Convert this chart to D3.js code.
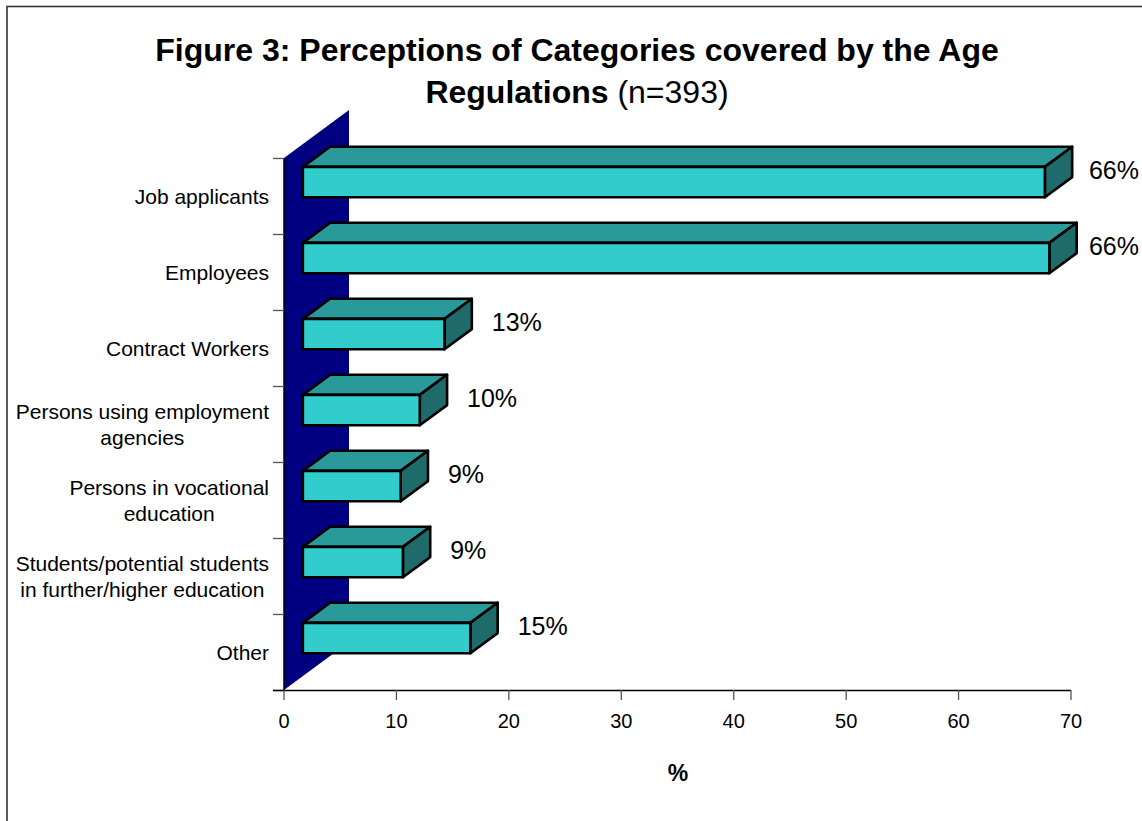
<!DOCTYPE html>
<html>
<head>
<meta charset="utf-8">
<script src="https://cdn.jsdelivr.net/npm/d3@7"></script>
<style>
  html, body { margin: 0; padding: 0; background: #fff; }
  svg { display: block; font-family: "Liberation Sans", Arial, sans-serif; }
</style>
</head>
<body>
<svg id="chart" width="1142" height="821"></svg>
<script>
// Categories (lines of each axis label separated by "|") and percentages
const categories = [
  "Job applicants",
  "Employees",
  "Contract Workers",
  "Persons using employment|agencies",
  "Persons in vocational|education",
  "Students/potential students|in further/higher education",
  "Other"
];
const values = [66.0, 66.4, 12.6, 10.4, 8.7, 8.9, 14.9];
const xTicks = [0, 10, 20, 30, 40, 50, 60, 70];

(function draw() {
  const svg = d3.select("#chart");
  const W = 1142, H = 821;

  // Frame round the chart area
  svg.append("rect")
    .attr("x", 7).attr("y", 6.5)
    .attr("width", W + 10).attr("height", H + 10)
    .attr("fill", "#fff").attr("stroke", "#333").attr("stroke-width", 1.6);

  // Scales
  const x = d3.scaleLinear().domain([0, 70]).range([284, 1071]);
  const y = d3.scaleBand().domain(categories).range([158, 690]).paddingInner(0).paddingOuter(0);

  // Depth of the 3D plot (wall) and of the bars
  const depth = [65, -48];
  const barFront = 0.29, barBack = 0.71;
  const bw = y.bandwidth();
  const barH = bw * 0.4;

  // Back wall
  const yTop = y.range()[0], yBottom = y.range()[1], x0 = x(0);
  svg.append("polygon")
    .attr("points", [
      [x0, yTop], [x0 + depth[0], yTop + depth[1]],
      [x0 + depth[0], yBottom + depth[1]], [x0, yBottom]
    ].map(p => p.join(",")).join(" "))
    .attr("fill", "#000080");

  // Category axis
  svg.append("line")
    .attr("x1", x0).attr("x2", x0).attr("y1", yTop).attr("y2", yBottom)
    .attr("stroke", "#000").attr("stroke-width", 1.5);
  const bounds = categories.map(c => y(c)).concat([yBottom]);
  svg.selectAll("line.ytick").data(bounds).join("line")
    .attr("class", "ytick")
    .attr("x1", x0 - 11).attr("x2", x0)
    .attr("y1", d => d + 0.5).attr("y2", d => d + 0.5)
    .attr("stroke", "#555").attr("stroke-width", 1.3);

  // Category labels: multi-line labels are centred within a right-aligned block
  const labelRight = 269;
  categories.forEach(c => {
    const lines = c.split("|");
    const cy = y(c) + bw / 2;
    const g = svg.append("g");
    const texts = lines.map((ln, i) => g.append("text")
      .attr("y", cy + (i - (lines.length - 1) / 2) * 26)
      .attr("dy", "0.36em")
      .attr("text-anchor", "middle")
      .attr("font-size", 21)
      .attr("fill", "#000")
      .text(ln));
    const maxW = d3.max(texts, t => t.node().getComputedTextLength());
    texts.forEach(t => t.attr("x", labelRight - maxW / 2));
  });

  // Value axis
  svg.append("line")
    .attr("x1", x0 - 11).attr("x2", x(70)).attr("y1", yBottom + 0.5).attr("y2", yBottom + 0.5)
    .attr("stroke", "#000").attr("stroke-width", 1.5);
  svg.selectAll("line.xtick").data(xTicks).join("line")
    .attr("class", "xtick")
    .attr("x1", d => x(d)).attr("x2", d => x(d))
    .attr("y1", yBottom).attr("y2", yBottom + 10)
    .attr("stroke", "#555").attr("stroke-width", 1.3);
  svg.selectAll("text.xlab").data(xTicks).join("text")
    .attr("class", "xlab")
    .attr("x", d => x(d)).attr("y", 728)
    .attr("text-anchor", "middle")
    .attr("font-size", 20)
    .text(d => d);

  svg.append("text")
    .attr("x", 678).attr("y", 781)
    .attr("text-anchor", "middle")
    .attr("font-size", 23).attr("font-weight", "bold")
    .text("%");

  // 3D bars
  const fx = depth[0] * barFront, fy = depth[1] * barFront;
  const bx = depth[0] * (barBack - barFront), by = depth[1] * (barBack - barFront);
  const pts = a => a.map(p => p.join(",")).join(" ");

  const bars = svg.selectAll("g.bar").data(categories.map((c, i) => ({ c, v: values[i] })))
    .join("g").attr("class", "bar");

  bars.each(function(d) {
    const g = d3.select(this);
    const xl = x(0) + fx, xr = x(d.v) + fx;
    const yt = y(d.c) + bw / 2 - barH / 2 + fy, yb = yt + barH;
    const style = sel => sel.attr("stroke", "#000").attr("stroke-width", 2.6).attr("stroke-linejoin", "round");
    g.append("polygon").attr("points", pts([[xl, yt], [xr, yt], [xr + bx, yt + by], [xl + bx, yt + by]]))
      .attr("fill", "#299999").call(style);
    g.append("polygon").attr("points", pts([[xr, yt], [xr + bx, yt + by], [xr + bx, yb + by], [xr, yb]]))
      .attr("fill", "#1f6b6b").call(style);
    g.append("rect").attr("x", xl).attr("y", yt).attr("width", xr - xl).attr("height", barH)
      .attr("fill", "#33cccc").call(style);
    // Value label beside the bar's end, kept inside the frame
    const lab = g.append("text")
      .attr("y", yt + 3)
      .attr("dy", "0.36em")
      .attr("text-anchor", "start")
      .attr("font-size", 25)
      .text(d3.format(".0f")(d.v) + "%");
    const lw = lab.node().getComputedTextLength();
    lab.attr("x", Math.min(xr + bx + 20, W - 3 - lw));
  });

  // Title
  const title = svg.append("text").attr("text-anchor", "middle").attr("font-size", 32);
  title.append("tspan").attr("x", 577).attr("y", 61).attr("font-weight", "bold")
    .text("Figure 3: Perceptions of Categories covered by the Age");
  title.append("tspan").attr("x", 577).attr("y", 103).attr("font-weight", "bold").text("Regulations");
  title.append("tspan").attr("font-weight", "normal").text(" (n=393)");
})();
</script>
</body>
</html>
